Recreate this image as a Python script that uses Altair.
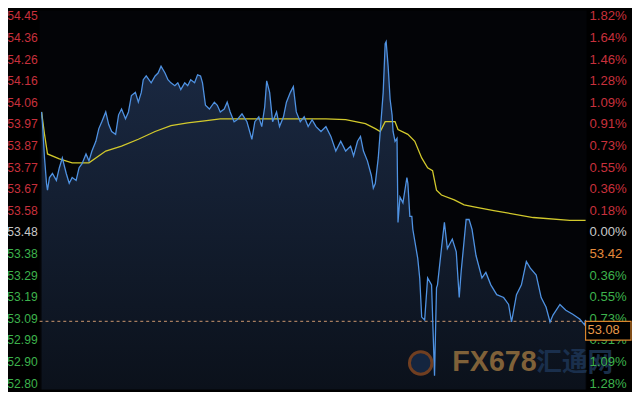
import altair as alt
import pandas as pd

# ---- axis ticks (price levels) ----
base_price = 53.48
step = 0.0972
tick_steps = list(range(10, -8, -1))
left_labels = ["54.45", "54.36", "54.26", "54.16", "54.06", "53.97", "53.87", "53.77", "53.67",
               "53.58", "53.48", "53.38", "53.29", "53.19", "53.09", "52.99", "52.90", "52.80"]
right_labels = ["1.82%", "1.64%", "1.46%", "1.28%", "1.09%", "0.91%", "0.73%", "0.55%", "0.36%",
                "0.18%", "0.00%", "53.42", "0.36%", "0.55%", "0.73%", "0.91%", "1.09%", "1.28%"]

# ---- price series (time index, price) ----
price_t = [0, 1, 3, 5, 6, 8, 11, 15, 18, 21, 25, 28, 31, 35, 38, 41, 45, 48, 51, 55, 58, 61, 65, 68, 71,
           75, 78, 81, 85, 88, 91, 95, 98, 101, 103, 106, 111, 115, 118, 121, 125, 128, 131, 135, 138,
           141, 145, 148, 151, 155, 158, 161, 163, 166, 170, 175, 178, 181, 185, 188, 191, 195, 198,
           203, 208, 213, 216, 220, 223, 226, 228, 231, 234, 238, 241, 245, 248, 252, 255, 258, 262,
           266, 270, 274, 278, 283, 288, 293, 298, 303, 308, 313, 316, 320, 323, 326, 330, 334, 336,
           338, 341, 343, 346, 348, 349, 351, 353, 355, 356, 358, 360, 361, 363, 366, 370, 371, 373,
           375, 376, 381, 383, 385, 388, 391, 395, 398, 400, 401, 405, 408, 411, 416, 420, 423, 425,
           430, 433, 436, 440, 446, 450, 455, 461, 468, 473, 476, 481, 486, 491, 495, 501, 506, 511,
           515, 518, 525, 531, 538, 545, 550, 551]
price_v = [54.022, 53.965, 53.815, 53.701, 53.670, 53.727, 53.745, 53.714, 53.771, 53.815, 53.745,
           53.701, 53.727, 53.714, 53.771, 53.789, 53.833, 53.802, 53.846, 53.890, 53.947, 53.978,
           54.022, 53.965, 53.934, 53.921, 54.009, 54.035, 53.991, 54.022, 54.096, 54.110, 54.066,
           54.110, 54.167, 54.184, 54.153, 54.184, 54.197, 54.228, 54.197, 54.167, 54.153, 54.140,
           54.153, 54.123, 54.153, 54.140, 54.167, 54.153, 54.189, 54.184, 54.153, 54.052, 54.035,
           54.066, 54.052, 54.022, 54.035, 54.066, 54.022, 53.978, 53.987, 54.013, 53.978, 53.899,
           53.978, 54.000, 53.956, 54.044, 54.162, 54.110, 53.978, 54.022, 53.956, 54.000, 54.066,
           54.110, 54.136, 54.022, 53.978, 54.000, 53.956, 53.987, 53.956, 53.934, 53.956, 53.912,
           53.846, 53.890, 53.846, 53.868, 53.824, 53.890, 53.912, 53.846, 53.802, 53.736, 53.679,
           53.700, 53.815, 53.934, 54.110, 54.329, 54.338, 54.228, 54.079, 54.009, 53.934, 53.890,
           53.903, 53.525, 53.639, 53.613, 53.727, 53.701, 53.552, 53.552, 53.494, 53.363, 53.275,
           53.099, 53.086, 53.275, 53.244, 52.835, 53.231, 53.244, 53.407, 53.525, 53.407, 53.450,
           53.393, 53.187, 53.305, 53.538, 53.538, 53.494, 53.376, 53.275, 53.300, 53.244, 53.200,
           53.187, 53.156, 53.077, 53.200, 53.244, 53.349, 53.319, 53.288, 53.187, 53.143, 53.077,
           53.108, 53.156, 53.130, 53.112, 53.090, 53.064, 53.086]

# ---- average price series ----
avg_t = [0, 3, 6, 18, 31, 48, 65, 81, 98, 115, 131, 148, 165, 181, 198, 228, 258, 288, 308, 328,
         338, 343, 348, 358, 361, 371, 378, 385, 391, 396, 400, 405, 418, 428, 438, 458, 498, 535, 551]
avg_v = [54.022, 53.921, 53.833, 53.811, 53.793, 53.793, 53.846, 53.868, 53.899, 53.934, 53.960,
         53.973, 53.982, 53.991, 53.991, 53.991, 53.991, 53.991, 53.987, 53.969, 53.947, 53.934,
         53.978, 53.978, 53.943, 53.921, 53.890, 53.815, 53.771, 53.758, 53.670, 53.648, 53.626,
         53.604, 53.595, 53.578, 53.547, 53.534, 53.534]

last_price = 53.08
last_label = "53.08"

W, H = 554, 384
X_DOM = [-2, 552]
Y_DOM = [52.7729, 54.4787]
px_per_price = H / (Y_DOM[1] - Y_DOM[0])

# ---- tables ----
price_df = pd.DataFrame({"t": price_t, "p": price_v})
avg_df = pd.DataFrame({"t": avg_t, "p": avg_v})
tick_vals = [base_price + k * step for k in tick_steps]
left_df = pd.DataFrame({
    "p": tick_vals, "label": left_labels,
    "kind": ["up" if k > 0 else ("flat" if k == 0 else "down") for k in tick_steps]})
right_df = pd.DataFrame({
    "p": tick_vals, "label": right_labels,
    "kind": ["mark" if not lab.endswith("%") else ("up" if k > 0 else ("flat" if k == 0 else "down"))
             for k, lab in zip(tick_steps, right_labels)]})
last_df = pd.DataFrame({"p": [last_price], "label": [last_label],
                        "top": [last_price], "bot": [last_price - 19 / px_per_price]})

xs = alt.Scale(domain=X_DOM, nice=False, zero=False)
ys = alt.Scale(domain=Y_DOM, nice=False, zero=False)
x_enc = alt.X("t:Q", scale=xs, axis=None)
y_enc = alt.Y("p:Q", scale=ys, axis=alt.Axis(values=tick_vals, grid=True, gridColor="#161e2b",
                                             gridWidth=1, labels=False, ticks=False, domain=False,
                                             title=None))
y_plain = alt.Y("p:Q", scale=ys, axis=None)

color_scale = alt.Scale(domain=["up", "flat", "down", "mark"],
                        range=["#c8303c", "#c8c8c8", "#3db24c", "#e48a3c"])

area_fill = {"gradient": "linear", "x1": 0, "y1": 0, "x2": 0, "y2": 1,
             "stops": [{"offset": 0, "color": "#1b2a44"}, {"offset": 1, "color": "#0b111b"}]}

area = alt.Chart(price_df).mark_area(fill=area_fill, opacity=1).encode(
    x=x_enc, y=y_enc, y2=alt.Y2("base:Q"))
area = area.transform_calculate(base=str(Y_DOM[0]))
blue = alt.Chart(price_df).mark_line(color="#4f92e2", strokeWidth=1.3).encode(x=x_enc, y=y_plain)
yellow = alt.Chart(avg_df).mark_line(color="#d2c92c", strokeWidth=1.3).encode(x=x_enc, y=y_plain)

dash = alt.Chart(last_df).mark_rule(color="#d09a70", strokeDash=[3, 3], strokeWidth=1).encode(
    x=alt.value(0), x2=alt.value(W), y=y_plain)

box = alt.Chart(last_df).mark_rect(fill="#000000", stroke="#d8842c", strokeWidth=1.2).encode(
    x=alt.value(W - 1), x2=alt.value(W + 45),
    y=alt.Y("top:Q", scale=ys, axis=None), y2=alt.Y2("bot:Q"))
box_text = alt.Chart(last_df).mark_text(
    align="left", baseline="middle", dy=9, fontSize=13, font="Liberation Sans",
    color="#e89a4a").encode(x=alt.value(W + 1), y=y_plain, text="label:N")

left_text = alt.Chart(left_df).mark_text(
    align="right", baseline="middle", fontSize=12.3, font="Liberation Sans").encode(
    x=alt.value(-2), y=y_plain, text="label:N",
    color=alt.Color("kind:N", scale=color_scale, legend=None))
right_text = alt.Chart(right_df).mark_text(
    align="left", baseline="middle", fontSize=13.3, font="Liberation Sans").encode(
    x=alt.value(W + 3), y=y_plain, text="label:N",
    color=alt.Color("kind:N", scale=color_scale, legend=None))

wm_df = pd.DataFrame({"a": ["FX678"], "b": ["汇通网"]})
logo = alt.Chart(wm_df).mark_point(shape="circle", size=520, filled=True, fill="#162a48",
                                   stroke="#8a4a22", strokeWidth=3, opacity=0.8).encode(
    x=alt.value(386), y=alt.value(357))
wm1 = alt.Chart(wm_df).mark_text(align="left", baseline="middle", fontSize=29, fontWeight="bold",
                                 font="Liberation Sans", color="#8c6a3c", opacity=0.9).encode(
    x=alt.value(418), y=alt.value(356), text="a:N")
wm2 = alt.Chart(wm_df).mark_text(align="left", baseline="middle", fontSize=26, fontWeight="bold",
                                 font="Noto Sans CJK SC", color="#1c3352", opacity=0.9).encode(
    x=alt.value(503), y=alt.value(357), text="b:N")

chart = alt.layer(area, dash, yellow, blue, logo, wm1, wm2, left_text, right_text,
                  box, box_text).properties(
    width=W, height=H,
    padding={"left": 32, "top": 0, "right": 46, "bottom": 0},
    autosize=alt.AutoSizeParams(type="none"),
    background="#000000",
).configure_view(strokeWidth=0, fill="#030407")

chart.save("out.html", embed_options={"renderer": "svg", "actions": False})
